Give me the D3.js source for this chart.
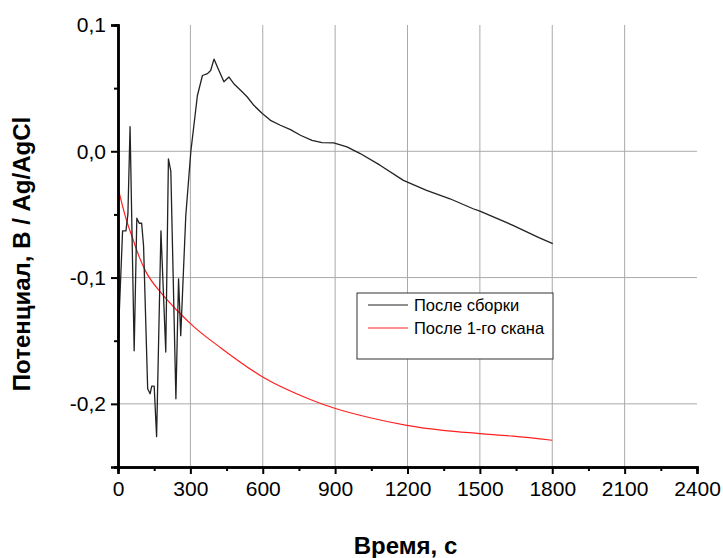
<html>
<head>
<meta charset="utf-8">
<script src="https://d3js.org/d3.v7.min.js"></script>
<style>
  body { margin: 0; background: #fff; }
  text { font-family: "Liberation Sans", Arial, sans-serif; }
</style>
</head>
<body>
<svg id="chart"></svg>

<script>
// time (s) and potential (V)
var blackT = [1, 19, 33, 41, 50, 67, 78, 88, 98, 106, 123, 133, 140, 150, 160, 178, 198, 209, 219, 240, 251, 260, 281, 302,
              329, 350, 371, 384, 398, 412, 439, 460, 480, 508, 536, 563, 598, 632, 673, 715, 756, 804, 846, 894, 949,
              1004, 1086, 1183, 1279, 1376, 1472, 1500, 1637, 1747, 1802];
var blackV = [-0.148, -0.063, -0.063, -0.05, 0.0195, -0.158, -0.053, -0.057, -0.057, -0.075, -0.188, -0.192, -0.186, -0.186,
              -0.226, -0.063, -0.159, -0.006, -0.016, -0.196, -0.101, -0.146, -0.051, 0.0,
              0.044, 0.060, 0.0615, 0.064, 0.073, 0.0668, 0.055, 0.0588, 0.0535, 0.0483, 0.043, 0.0364, 0.0299, 0.0245,
              0.0206, 0.0171, 0.0127, 0.0087, 0.0069, 0.0066, 0.0035, -0.0018, -0.011, -0.023, -0.0309, -0.0376, -0.0455,
              -0.0474, -0.0586, -0.0686, -0.0731];

var redT = [0, 33, 61, 88, 116, 178, 247, 315, 425, 598, 797, 898, 1045, 1197, 1348, 1500, 1637, 1800];
var redV = [-0.029, -0.0533, -0.069, -0.0836, -0.0955, -0.112, -0.1265, -0.139, -0.1555, -0.1785, -0.1965, -0.2035,
            -0.211, -0.217, -0.221, -0.2235, -0.2256, -0.2288];

var xTicks = [0, 300, 600, 900, 1200, 1500, 1800, 2100, 2400];
var yTicks = [0.1, 0.0, -0.1, -0.2];
var seriesNames = ["После сборки", "После 1-го скана"];

var W = 723, H = 558;
var mLeft = 118, mRight = 697, mTop = 25, mBottom = 467;

var svg = d3.select("#chart").attr("width", W).attr("height", H);

var x = d3.scaleLinear().domain([0, 2400]).range([mLeft, mRight]);
var y = d3.scaleLinear().domain([-0.25, 0.1]).range([mBottom, mTop]);

// grid
svg.append("g").selectAll("line")
  .data(xTicks.slice(1, -1))
  .enter().append("line")
  .attr("x1", d => x(d)).attr("x2", d => x(d))
  .attr("y1", mTop).attr("y2", mBottom)
  .attr("stroke", "#aaa").attr("stroke-width", 1);

svg.append("g").selectAll("line")
  .data(yTicks.slice(1))
  .enter().append("line")
  .attr("x1", mLeft).attr("x2", mRight)
  .attr("y1", d => y(d)).attr("y2", d => y(d))
  .attr("stroke", "#aaa").attr("stroke-width", 1);

var line = d3.line().x(d => x(d[0])).y(d => y(d[1]));

svg.append("path")
  .datum(redT.map((t, i) => [t, redV[i]]))
  .attr("d", line.curve(d3.curveMonotoneX))
  .attr("fill", "none").attr("stroke", "#ff2020").attr("stroke-width", 1.2);

svg.append("path")
  .datum(blackT.map((t, i) => [t, blackV[i]]))
  .attr("d", line.curve(d3.curveLinear))
  .attr("fill", "none").attr("stroke", "#222").attr("stroke-width", 1.3)
  .attr("stroke-linejoin", "round");

// axes
var fmt = d => d3.format(".1f")(d).replace(".", ",").replace("−", "-");

svg.append("g")
  .attr("transform", "translate(0," + mBottom + ")")
  .call(d3.axisBottom(x).tickValues(xTicks).tickSize(7).tickPadding(7).tickFormat(d3.format("d")));
svg.append("g")
  .attr("transform", "translate(0," + mBottom + ")")
  .call(d3.axisBottom(x).tickValues(d3.range(150, 2400, 300)).tickSize(4).tickFormat(""));

svg.append("g")
  .attr("transform", "translate(" + mLeft + ",0)")
  .call(d3.axisLeft(y).tickValues(yTicks).tickSize(7).tickPadding(5).tickFormat(fmt));
svg.append("g")
  .attr("transform", "translate(" + mLeft + ",0)")
  .call(d3.axisLeft(y).tickValues([0.05, -0.05, -0.15]).tickSize(4).tickFormat(""));

svg.selectAll(".domain").attr("stroke", "#000").attr("stroke-width", 2.5);
svg.selectAll(".tick line").attr("stroke", "#000").attr("stroke-width", 2);
svg.selectAll(".tick text").attr("font-size", 21).attr("fill", "#000")
  .style("font-family", "'Liberation Sans', Arial, sans-serif");

// titles
svg.append("text")
  .attr("x", (mLeft + mRight) / 2 - 2).attr("y", 554)
  .attr("text-anchor", "middle")
  .attr("font-size", 24).attr("font-weight", "bold")
  .text("Время, с");

svg.append("text")
  .attr("transform", "translate(30,254) rotate(-90)")
  .attr("text-anchor", "middle")
  .attr("font-size", 24).attr("font-weight", "bold")
  .text("Потенциал, В / Ag/AgCl");

// legend
var lg = svg.append("g");
lg.append("rect")
  .attr("x", 357).attr("y", 293).attr("width", 196).attr("height", 66)
  .attr("fill", "#fff").attr("stroke", "#333").attr("stroke-width", 1);
var colors = ["#222", "#ff2020"];
seriesNames.forEach(function(name, i) {
  var yy = 305 + i * 23;
  lg.append("line").attr("x1", 368).attr("x2", 408).attr("y1", yy).attr("y2", yy)
    .attr("stroke", colors[i]).attr("stroke-width", 1.2);
  lg.append("text").attr("x", 414).attr("y", yy + 6)
    .attr("font-size", 16.5).attr("fill", "#000").text(name);
});
</script>
</body>
</html>
